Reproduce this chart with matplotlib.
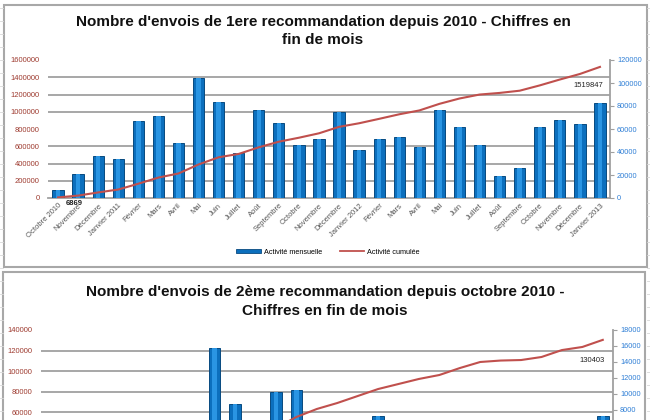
import numpy as np
import matplotlib.pyplot as plt
from matplotlib.patches import Rectangle, Patch
from matplotlib.lines import Line2D

plt.rcParams['font.family'] = ['Liberation Sans', 'DejaVu Sans']

mois = ["Octobre 2010", "Novembre", "Décembre", "Janvier 2011", "Février", "Mars",
        "Avril", "Mai", "Juin", "Juillet", "Août", "Septembre", "Octobre", "Novembre",
        "Décembre", "Janvier 2012", "Février", "Mars", "Avril", "Mai", "Juin", "Juillet",
        "Août", "Septembre", "Octobre", "Novembre", "Décembre", "Janvier 2013"]

# 1ere recommandation
envois_1 = [6869, 21000, 36600, 33800, 67300, 71300, 47400, 104500, 83200, 39000,
            76800, 65000, 46000, 51300, 74800, 41700, 51300, 52800, 44400, 76500,
            62000, 45800, 18900, 25800, 61400, 68100, 64400, 82600]
cumul_1 = [6869, 27869, 64469, 98269, 165569, 236869, 284269, 388769, 471969, 510969,
           587769, 652769, 698769, 750069, 824869, 866569, 917869, 970669, 1015069,
           1091569, 1153569, 1199369, 1218269, 1244069, 1305469, 1373569, 1437969, 1519847]

# 2eme recommandation
envois_2 = [300, 500, 700, 800, 900, 1000, 1100, 1200, 15800, 8800, 3500, 10200,
            10500, 6500, 5900, 6600, 7200, 4900, 4900, 3900, 6400, 5900, 1400, 600,
            3000, 6500, 3100, 7200]
cumul_2 = [300, 800, 1500, 2300, 3200, 4200, 5300, 6500, 22300, 31100, 34600, 44800,
           55400, 63200, 69000, 75800, 82600, 87500, 92400, 96250, 103000, 108900,
           110300, 110800, 113750, 120500, 123500, 130403]

BLEU = '#0c6fbd'
BLEU_CLAIR = '#2a95e3'
BORD = '#084a80'
ROUGE = '#c0504d'
BRUN = '#9e3b30'
BLEU_AXE = '#2f7fd6'
GRILLE = '#a0a0a0'

W, H = 650, 420
fig = plt.figure(figsize=(6.5, 4.2), dpi=100)


def px(x0, y0, x1, y1):
    return [x0 / W, 1 - y1 / H, (x1 - x0) / W, (y1 - y0) / H]


# fond tableur
for y in range(8, 420, 13):
    fig.add_artist(Line2D([0, 3 / W], [1 - y / H] * 2, color='#d8d8d8', lw=0.6))
    fig.add_artist(Line2D([647 / W, 1], [1 - y / H] * 2, color='#d8d8d8', lw=0.6))

for b in [(4, 5, 647, 267), (3, 272, 645, 445)]:
    r = px(*b)
    fig.add_artist(Rectangle((r[0], r[1]), r[2], r[3], transform=fig.transFigure,
                             fc='white', ec='#a8a8a8', lw=1.5, zorder=0))


def graphique(pos, envois, cumul, gmax, gpas, dmax, dpas, labels=True, gmin_vis=0, dmin_vis=0):
    x = np.arange(len(mois))
    ax = fig.add_axes(pos)
    ax.set_facecolor('none')
    ax.bar(x, envois, width=0.56, color=BLEU, edgecolor=BORD, lw=0.7, zorder=3)
    ax.bar(x, envois, width=0.22, color=BLEU_CLAIR, lw=0, zorder=4)
    ax.set_xlim(-0.5, len(mois) - 0.5)
    ax.set_ylim(0, dmax)
    ax.set_yticks(np.arange(dmin_vis, dmax + 1, dpas))
    n = int(round(gmax / gpas))
    ax.set_yticks(np.linspace(0, dmax, n + 1), minor=True)
    ax.grid(True, which='minor', axis='y', color=GRILLE, lw=1.3, zorder=0)
    for s in ['top', 'left']:
        ax.spines[s].set_visible(False)
    for s in ['right', 'bottom']:
        ax.spines[s].set_color(GRILLE)
        ax.spines[s].set_linewidth(1.3)
    ax.set_xticks(x)
    if labels:
        ax.set_xticklabels(mois, rotation=45, ha='right', rotation_mode='anchor',
                           fontsize=5.5, color='#555555')
    else:
        ax.set_xticklabels([])
    ax.tick_params(axis='x', length=0, pad=3)

    ax2 = ax.twinx()
    ax2.plot(x, cumul, color=ROUGE, lw=1.5, zorder=5)
    ax2.set_ylim(0, gmax)
    ax2.set_yticks(np.arange(gmin_vis, gmax + 1, gpas))
    ax2.ticklabel_format(axis='y', style='plain', useOffset=False)
    for s in ax2.spines.values():
        s.set_visible(False)

    # axes : cumul a gauche, mensuel a droite
    ax.yaxis.tick_right()
    ax2.yaxis.tick_left()
    ax.tick_params(axis='y', which='minor', length=0)
    ax.tick_params(axis='y', which='major', length=3, color=GRILLE, labelcolor=BLEU_AXE,
                   labelsize=5.3, pad=2)
    ax2.tick_params(axis='y', length=0, labelcolor=BRUN, labelsize=5.5, pad=6)
    return ax, ax2


ax, ax2 = graphique(px(48, 60, 610, 198), envois_1, cumul_1, 1600000, 200000, 120000, 20000)
ax2.annotate(str(cumul_1[0]), (0, cumul_1[0]), xytext=(16, -6), textcoords='offset pixels',
             ha='center', va='center', fontsize=5.5, color='#222222', fontweight='bold')
ax2.annotate(str(cumul_1[-1]), (len(mois) - 1, cumul_1[-1]), xytext=(-12, -19),
             textcoords='offset pixels', ha='center', va='center', fontsize=5.5, color='#222222')

fig.text(323 / W, 1 - 22 / H, "Nombre d'envois de 1ere recommandation depuis 2010 - Chiffres en",
         ha='center', va='center', fontsize=11, fontweight='bold', color='#111111')
fig.text(323 / W, 1 - 40 / H, "fin de mois", ha='center', va='center', fontsize=11,
         fontweight='bold', color='#111111')

poignees = [Patch(fc=BLEU, ec=BORD, lw=0.6), Line2D([], [], color=ROUGE, lw=1.3)]
fig.legend(poignees, ['Activité mensuelle', 'Activité cumulée'], loc='center',
           bbox_to_anchor=(328 / W, 1 - 252 / H), ncol=2, frameon=False, fontsize=5.2,
           handlelength=3.4, handleheight=0.5, columnspacing=2.5, handletextpad=0.4)

# seules les graduations visibles dans la capture sont gardees
bx, bx2 = graphique(px(41, 330, 613, 474), envois_2, cumul_2, 140000, 20000, 18000, 2000,
                    labels=False, gmin_vis=60000, dmin_vis=8000)
bx2.annotate(str(cumul_2[-1]), (len(mois) - 1, cumul_2[-1]), xytext=(-11, -21),
             textcoords='offset pixels', ha='center', va='center', fontsize=5.5, color='#222222')

fig.text(325 / W, 1 - 292 / H, "Nombre d'envois de 2ème recommandation depuis octobre 2010 -",
         ha='center', va='center', fontsize=11, fontweight='bold', color='#111111')
fig.text(325 / W, 1 - 311 / H, "Chiffres en fin de mois", ha='center', va='center',
         fontsize=11, fontweight='bold', color='#111111')

fig.savefig('out.png', dpi=100)
